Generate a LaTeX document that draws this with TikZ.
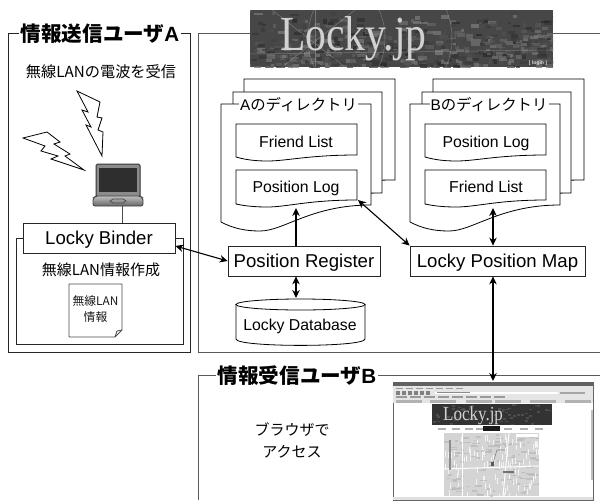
\documentclass[tikz,border=0pt]{standalone}
\usepackage{fontspec}
\setmainfont{Liberation Sans}
\newfontfamily\cjk{Noto Sans CJK JP}
\newfontfamily\logofont{Liberation Serif}
\usetikzlibrary{arrows.meta,shapes.geometric,calc}
\newcommand{\fs}[1]{\fontsize{#1}{#1}\selectfont}
\newcommand{\wavedoc}[6]{% x1 ytop x2 yleft yright ydip
  \draw[docline] (#1,#2) -- (#3,#2) -- (#3,#5)
    .. controls ({#1+0.6*(#3-#1)},#5) and ({#1+0.42*(#3-#1)},#6) .. ({#1+0.26*(#3-#1)},#6)
    .. controls ({#1+0.16*(#3-#1)},#6) and ({#1+0.08*(#3-#1)},{#6-0.3*(#6-#4)}) .. (#1,#4) -- cycle;}
\definecolor{framegray}{HTML}{5A5A5A}
\tikzset{
  x=1pt,y=-1pt,
  docline/.style={draw=black,fill=white,line width=0.8pt},
  frameA/.style={draw=black!85,line width=1pt},
  frameG/.style={draw=framegray,line width=1pt},
  box/.style={draw=black!85,fill=white,line width=0.8pt,inner sep=0pt,text height=13.4pt,text depth=0pt},
  lbl/.style={inner sep=0pt,align=center},
  small/.style={inner sep=0pt,font=\fs{15.8},text height=11.4pt,text depth=0pt},
  title/.style={fill=white,inner sep=2pt,font=\fs{20.6}\cjk\bfseries},
  dirtitle/.style={fill=white,inner xsep=1pt,inner ysep=0pt,font=\fs{15.4}\cjk},
  conn/.style={line width=1.1pt,draw=black},
  both/.style={conn,{Stealth[length=8pt,width=7.5pt]}-{Stealth[length=8pt,width=7.5pt]}},
  one/.style={conn,-{Stealth[length=8pt,width=7.5pt]}},
  bolt/.style={draw=black,fill=white,line width=0.8pt,line join=miter},
}
\begin{document}
\begin{tikzpicture}
\useasboundingbox (0,0) rectangle (600,501);
\fill[white] (0,0) rectangle (600,501);
% ---- frames
\draw[frameA] (8,33) rectangle (190,352);
\draw[frameG] (198,33) -- (198,352) -- (600,352);
\draw[frameG] (198,33) -- (600,33);
\draw[frameG] (198,500) -- (198,375) -- (600,375);
\node[title] (titleA) at (100,34) {情報送信ユーザ{\rmfamily A}};
\node[title] (titleB) at (297,376) {情報受信ユーザ{\rmfamily B}};
% ---- left column
\node[lbl,font=\fs{15.2}\cjk] (recv) at (101,72) {無線LANの電波を受信};
\draw[bolt] (77,91) -- (100,102) -- (97,117) -- (102,118) -- (98,130) -- (103,132) -- (102,156) -- (86,125) -- (91,127) -- (82,110) -- (88,112) -- cycle;
\draw[bolt] (23,138) -- (47,132) -- (60,142) -- (54,144) -- (70,154) -- (65,156) -- (84,170) -- (51,159) -- (58,156) -- (41,151) -- (45,146) -- cycle;
% laptop
\draw[line width=1pt,draw=black!80,fill=black!45,rounded corners=1.5pt] (96,164) rectangle (140,197);
\fill[black!82] (99,168) rectangle (137,192);
\shade[top color=black!25,bottom color=black!60,draw=black!75,line width=0.8pt,rounded corners=2pt] (96,196) -- (140,196) -- (143,198) -- (143,206) -- (93,206) -- (93,198) -- cycle;
\draw[black!70,line width=0.7pt] (110,201) -- (113,199) -- (123,199) -- (126,201) -- (123,203) -- (113,203) -- cycle;
\coordinate (laptop) at (122,206);
% inner frame and binder
\draw[draw=black!85,line width=0.8pt] (16,238) rectangle (183,344);
\node[box,minimum width=152pt,minimum height=30pt,font=\fs{18.6}] (binder) at (99,238) {Locky Binder};
\draw[line width=0.8pt,black!70] (laptop) -- (binder.north -| laptop);
\node[lbl,font=\fs{15}\cjk] (make) at (101,270) {無線LAN情報作成};
\draw[draw=black!70,fill=white,line width=0.9pt,rounded corners=0.5pt] (69,284) -- (122,284) -- (122,330) -- (115,337) -- (69,337) -- cycle;
\draw[draw=black!70,line width=0.8pt] (122,330) -- (117,331) -- (115,337);
\node[lbl,font=\fs{11.8}\cjk,text=black!90] (wlan) at (95.5,309) {無線LAN\\[4pt]情報};
% ---- logo
\fill[black!72] (250,10) rectangle (553,67);
\begin{scope}
\clip (250,10) rectangle (553,67);
\pgfmathsetseed{42}
\foreach \i in {1,...,500}{
  \pgfmathsetmacro{\px}{250+303*rnd}
  \pgfmathsetmacro{\py}{10+57*rnd^0.6}
  \pgfmathsetmacro{\pg}{50+35*rnd}
  \pgfmathsetmacro{\pw}{3+6*rnd}
  \pgfmathsetmacro{\ph}{2+2.5*rnd}
  \fill[black!\pg,opacity=.7] (\px,\py) rectangle ({\px+\pw},{\py+\ph});
}
\draw[white!65!black,line width=0.5pt,opacity=.5] (315,38) circle (70);
\draw[white!65!black,line width=0.5pt,opacity=.5] (315,10) -- (315,67);
\draw[white!65!black,line width=0.5pt,opacity=.5] (250,54) -- (553,50);
\draw[white!65!black,line width=0.5pt,opacity=.5] (272,10) -- (345,67);
\draw[white!65!black,line width=0.5pt,opacity=.5] (355,10) -- (282,67);
\draw[white!65!black,line width=0.5pt,opacity=.5] (380,38) circle (72);
\end{scope}
\node[inner sep=0pt,anchor=base west,text=black!18,xscale=0.85,font=\fs{49}\logofont] (logo) at (280,50) {Locky.jp};
\node[inner sep=0pt,text=white!85!black,font=\fs{5}\bfseries] (login) at (538,63) {[ login ]};
% ---- directory A
\wavedoc{244}{79}{395}{170}{180}{190}
\wavedoc{233}{92}{382}{185}{193}{205}
\wavedoc{221}{104}{371}{222}{205}{231}
\node[dirtitle] (dirA) at (298.5,105) {{\rmfamily A}のディレクトリ};
\wavedoc{236}{124}{357}{157}{155}{161}
\node[small] (friendA) at (296,142) {Friend List};
\wavedoc{236}{170}{357}{204}{200}{207}
\node[small] (logA) at (296,187) {Position Log};
% ---- directory B
\wavedoc{433}{79}{584}{170}{180}{190}
\wavedoc{422}{92}{571}{185}{193}{205}
\wavedoc{410}{104}{560}{222}{205}{231}
\node[dirtitle] (dirB) at (489,105) {{\rmfamily B}のディレクトリ};
\wavedoc{425}{124}{546}{157}{155}{161}
\node[small] (posB) at (486,142) {Position Log};
\wavedoc{425}{170}{546}{204}{200}{207}
\node[small] (friendB) at (486,187) {Friend List};
% ---- server boxes
\node[box,minimum width=152pt,minimum height=30pt,font=\fs{18.6}] (reg) at (304,261) {Position Register};
\node[box,minimum width=175pt,minimum height=30pt,font=\fs{18.6}] (map) at (497.5,261) {Locky Position Map};
% database
\draw[docline] (236,304) -- (236,339) .. controls (236,347.5) and (365,347.5) .. (365,339) -- (365,304);
\draw[docline] (300.5,304.5) ellipse (64.5 and 5.5);
\node[small] (db) at (300,324.5) {Locky Database};
\coordinate (dbtop) at (296,298);
% ---- screenshot
\fill[white] (393,382) rectangle (593,500);
\draw[black!60,line width=0.8pt] (393,382) rectangle (593,500);
\fill[black!62] (393,382) rectangle (593,386);
\fill[black!10] (393,386) rectangle (593,403);
\foreach \nx in {396,406,416,426,436,446,456}{\fill[black!40] (\nx,387.5) rectangle ({\nx+7},389);}
\foreach \nx in {396,402,408,414,420,426}{\fill[black!50] (\nx,391) rectangle ({\nx+4},394.5);}
\fill[white] (435,391.5) rectangle (558,394);
\fill[black!45] (437,392.3) rectangle (470,393.2);
\fill[black!35] (560,391.5) rectangle (585,394);
\foreach \nx in {396,410,424,438,452,466,480,494}{\fill[black!40] (\nx,396) rectangle ({\nx+11},398);}
\foreach \nx in {396,430,466,495,530,565}{\fill[black!30] (\nx,400) rectangle ({\nx+26},402.5);}
\fill[black!80] (432,404) rectangle (552,425);
\begin{scope}
\clip (432,404) rectangle (552,425);
\pgfmathsetseed{11}
\foreach \i in {1,...,60}{
  \pgfmathsetmacro{\px}{432+120*rnd}
  \pgfmathsetmacro{\py}{404+21*rnd}
  \fill[black!65,opacity=.7] (\px,\py) rectangle ({\px+3},{\py+1.5});
}
\end{scope}
\node[inner sep=0pt,anchor=base west,text=black!18,xscale=0.85,font=\fs{20}\logofont] (shotlogo) at (443,420) {Locky.jp};
\foreach \nx in {438,452,465,476,504,520,535}{\fill[black!30] (\nx,428) rectangle ({\nx+8},429.5);}
\fill[black!90] (483,426) rectangle (500,430.5);
\fill[black!17] (444,433) rectangle (539,496);
\begin{scope}
\clip (444,433) rectangle (539,496);
\pgfmathsetseed{7}
\foreach \i in {1,...,110}{
  \pgfmathsetmacro{\px}{444+95*rnd}
  \pgfmathsetmacro{\py}{433+63*rnd}
  \pgfmathsetmacro{\pw}{2+6*rnd}
  \fill[black!28,opacity=.7] (\px,\py) rectangle ({\px+\pw},{\py+1.5});
  \pgfmathsetmacro{\qx}{444+95*rnd}
  \pgfmathsetmacro{\qy}{433+63*rnd}
  \fill[white,opacity=.7] (\qx,\qy) rectangle ({\qx+1},{\qy+6});
}
\draw[white,line width=1pt] (462,433) -- (462,496);
\draw[white,line width=1pt] (444,469) -- (539,466);
\draw[white,line width=1pt] (509,433) -- (503,496);
\fill[black!45] (449,440) rectangle (451,470);
\draw[black!50,line width=0.6pt] (493,463) -- (497,450) -- (505,450);
\fill[black!65] (491,462) rectangle (494,466);
\fill[white] (516,434) rectangle (538,437);
\fill[black!55] (503,471) rectangle (514,473);
\end{scope}
\fill[black!25] (591,410) rectangle (593,480);
\fill[black!12] (393,497) rectangle (593,500);
\coordinate (shot) at (493,381);
% ---- browser label
\node[lbl,font=\fs{15}\cjk] (access) at (292,440) {ブラウザで\\[7pt]アクセス};
% ---- connectors
\coordinate (logAin) at (296,208);
\coordinate (logAcorner) at (358,200);
\coordinate (logBin) at (493,208);
\draw[both] (binder.east) ++(0,8) coordinate (be) (be) -- (reg.west);
\draw[one] (reg.north -| logAin) -- (logAin);
\draw[both] (reg.south -| dbtop) -- (dbtop);
\draw[both] (logAcorner) -- (map.north west);
\draw[both] (map.north -| logBin) -- (logBin);
\draw[both] (map.south -| shot) -- (shot);
\end{tikzpicture}
\end{document}
